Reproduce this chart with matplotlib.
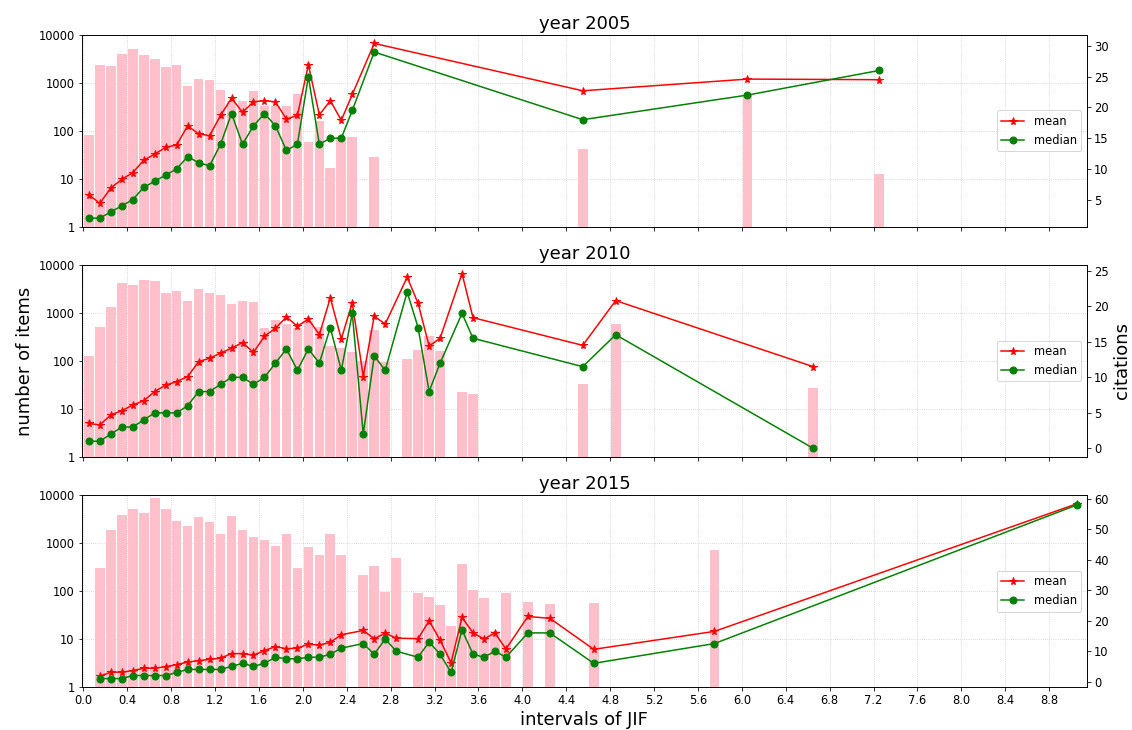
import numpy as np
import matplotlib
matplotlib.use("Agg")
import matplotlib.pyplot as plt
from matplotlib.ticker import MultipleLocator, FuncFormatter

# ---------------------------------------------------------------------------
# data (bars = number of items, lines = citations)
# ---------------------------------------------------------------------------
years = ["2005", "2010", "2015"]

bar_x_2005 = [0.05, 0.15, 0.25, 0.35, 0.45, 0.55, 0.65, 0.75, 0.85, 0.95,
              1.05, 1.15, 1.25, 1.35, 1.45, 1.55, 1.65, 1.75, 1.85, 1.95,
              2.05, 2.15, 2.25, 2.35, 2.45, 2.65, 4.55, 6.05, 7.25]
items_2005 = [82, 2300, 2230, 4030, 5040, 3800, 3180, 2130, 2380, 838,
              1200, 1120, 714, 407, 420, 670, 330, 330, 330, 590,
              59, 156, 16.8, 75, 74, 28, 42, 560, 12.6]
line_x_2005 = bar_x_2005
mean_2005 = [5.8, 4.4, 6.9, 8.3, 9.4, 11.4, 12.4, 13.5, 13.9, 17.0,
             15.7, 15.4, 18.7, 21.5, 19.2, 20.9, 21.1, 20.9, 18.1, 18.7,
             26.9, 18.8, 21.1, 17.9, 22.1, 30.4, 22.7, 24.6, 24.5]
median_2005 = [2, 2, 3, 4, 5, 7, 8, 9, 10, 12,
               11, 10.5, 14, 19, 14, 17, 19, 17, 13, 14,
               25, 14, 15, 15, 19.5, 29, 18, 22, 26]

bar_x_2010 = [0.05, 0.15, 0.25, 0.35, 0.45, 0.55, 0.65, 0.75, 0.85, 0.95,
              1.05, 1.15, 1.25, 1.35, 1.45, 1.55, 1.65, 1.75, 1.85, 1.95,
              2.05, 2.15, 2.25, 2.35, 2.45, 2.55, 2.65, 2.75,
              2.95, 3.05, 3.15, 3.25, 3.45, 3.55, 4.55, 4.85, 6.65]
items_2010 = [129, 515, 1300, 4120, 3880, 4920, 4630, 2640, 2890, 1740,
              3090, 2640, 2320, 1550, 1740, 1650, 490, 720, 575, 480,
              665, 500, 206, 190, 154, 100, 440, 97,
              110, 172, 328, 162, 22.8, 20.4, 32.6, 575, 27.3]
line_x_2010 = bar_x_2010
mean_2010 = [3.5, 3.3, 4.7, 5.3, 6.1, 6.7, 8.0, 8.9, 9.4, 10.1,
             12.2, 12.7, 13.4, 14.1, 14.9, 13.5, 15.8, 16.9, 18.5, 17.2,
             18.2, 16.0, 21.2, 15.4, 20.5, 10.1, 18.6, 17.5,
             24.1, 20.4, 14.4, 15.5, 24.6, 18.4, 14.5, 20.8, 11.5]
median_2010 = [1, 1, 2, 3, 3, 4, 5, 5, 5, 6,
               8, 8, 9, 10, 10, 9, 10, 12, 14, 11,
               14, 12, 17, 11, 19, 2, 13, 11,
               22, 17, 8, 12, 19, 15.5, 11.5, 16, 0]

bar_x_2015 = [0.15, 0.25, 0.35, 0.45, 0.55, 0.65, 0.75, 0.85, 0.95,
              1.05, 1.15, 1.25, 1.35, 1.45, 1.55, 1.65, 1.75, 1.85, 1.95,
              2.05, 2.15, 2.25, 2.35, 2.55, 2.65, 2.75, 2.85,
              3.05, 3.15, 3.25, 3.35, 3.45, 3.55, 3.65, 3.75, 3.85,
              4.05, 4.25, 4.65, 5.75]
items_2015 = [305, 1920, 3900, 5200, 4150, 8660, 5200, 2920, 2330,
              3470, 2730, 1560, 3650, 1920, 1370, 1150, 863, 1560, 310,
              822, 578, 1560, 578, 218, 330, 98, 484,
              90, 77, 52, 19.3, 363, 108, 73, 15, 90,
              60, 54, 57.5, 725]
line_x_2015 = [0.15, 0.25, 0.35, 0.45, 0.55, 0.65, 0.75, 0.85, 0.95,
               1.05, 1.15, 1.25, 1.35, 1.45, 1.55, 1.65, 1.75, 1.85, 1.95,
               2.05, 2.15, 2.25, 2.35, 2.55, 2.65, 2.75, 2.85,
               3.05, 3.15, 3.25, 3.35, 3.45, 3.55, 3.65, 3.75, 3.85,
               4.05, 4.25, 4.65, 5.75, 9.05]
mean_2015 = [1.8, 3.1, 3.1, 3.6, 4.4, 4.4, 4.9, 5.6, 6.4,
             6.9, 7.3, 7.7, 9.2, 9.2, 8.7, 10.2, 11.5, 10.8, 11.0,
             12.3, 12.0, 12.9, 15.4, 16.8, 14.1, 15.9, 14.3,
             14.1, 20.0, 13.6, 6.2, 21.1, 16.0, 14.0, 16.0, 10.7,
             21.4, 20.8, 10.6, 16.5, 58.4]
median_2015 = [1, 1, 1, 2, 2, 2, 2, 3, 4,
               4, 4, 4, 5, 6, 5, 6, 8, 7.5, 7.5,
               8, 8, 9, 11, 12.5, 9, 14, 10,
               8, 13, 9, 3, 17, 9, 8, 10, 8,
               16, 16, 6, 12.5, 58]

panels = [
    (bar_x_2005, items_2005, line_x_2005, mean_2005, median_2005),
    (bar_x_2010, items_2010, line_x_2010, mean_2010, median_2010),
    (bar_x_2015, items_2015, line_x_2015, mean_2015, median_2015),
]

###############################################################################
# plot
###############################################################################
fig, axes = plt.subplots(3, 1, sharex=True, figsize=(1132 / 72, 730 / 72), dpi=72)
fig.subplots_adjust(left=0.0722, right=0.9603, top=0.9525, bottom=0.0585, hspace=0.198)

for i, (ax, year, data) in enumerate(zip(axes, years, panels)):
    bx, cnt, lx, mean_, median_ = data
    ax.bar(bx, cnt, width=0.088, color='pink')
    ax.set_yscale('log')
    ax.set_ylim(1, 10000)
    ax.yaxis.set_major_formatter(FuncFormatter(lambda v, p: f"{int(round(v))}"))
    ax.yaxis.set_minor_locator(plt.NullLocator())
    ax.set_axisbelow(True)
    ax.grid(True, linestyle=':', color='#c8c8c8', linewidth=0.8)
    ax.tick_params(labelsize=11.5)
    ax.set_title(f"year {year}", fontsize=18)

    ax2 = ax.twinx()
    ax2.plot(lx, mean_, color='red', marker='*', markersize=8, linewidth=1.5, label='mean')
    ax2.plot(lx, median_, color='green', marker='o', markersize=7, linewidth=1.5, label='median')
    ax2.tick_params(labelsize=11.5)
    ax2.legend(loc='center right', fontsize=11.5)

    if i == 1:
        ax.set_ylabel("number of items", fontsize=18)
        ax2.set_ylabel("citations", fontsize=18)

axes[-1].xaxis.set_major_locator(MultipleLocator(0.4))
axes[-1].xaxis.set_major_formatter(FuncFormatter(lambda v, p: f"{v:.1f}"))
axes[-1].set_xlim(-0.015, 9.145)
axes[-1].set_xlabel("intervals of JIF", fontsize=18)

plt.savefig("out.png", dpi=72)
